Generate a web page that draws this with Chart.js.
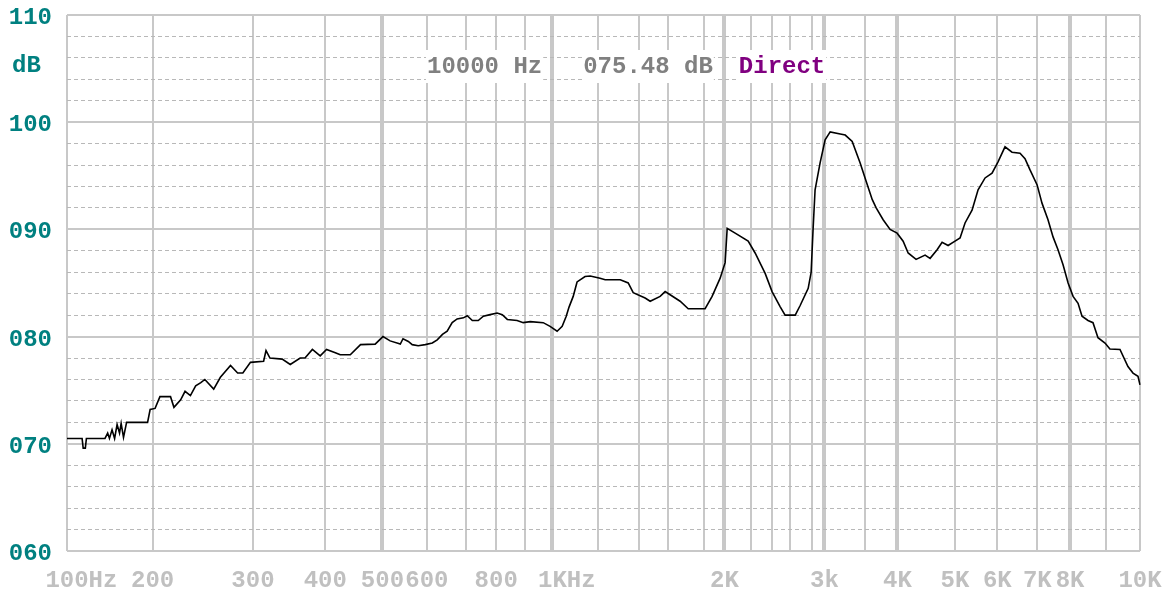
<!DOCTYPE html>
<html>
<head>
<meta charset="utf-8">
<title>Frequency response - Direct</title>
<script src="https://cdn.jsdelivr.net/npm/chart.js@4.4.1/dist/chart.umd.min.js"></script>
<style>
    html, body { margin: 0; padding: 0; background: #fff; }
    #wrap { width: 1162px; height: 593px; }
</style>
</head>
<body>
<div id="wrap"><canvas id="fr" width="1162" height="593"></canvas></div>
<script>
// --- 1. DATA ---
const FREQ_HZ = [
    100, 113, 114, 116, 117, 136, 139, 141, 144, 147, 150, 153, 155, 158, 162, 192, 196,
    202, 206, 215, 218, 224, 228, 233, 238, 243, 247, 256, 263, 274, 282, 288, 297,
    313, 316, 321, 337, 348, 362, 369, 380, 392, 402, 416, 424, 441, 459, 486,
    501, 516, 538, 544, 556, 565, 579, 596, 613, 625, 638, 650, 663, 676, 693,
    704, 720, 739, 756, 779, 803, 820, 837, 871, 893, 918, 965, 991,
    1019, 1040, 1057, 1069, 1087, 1104, 1140, 1164, 1210, 1233, 1304, 1343, 1368,
    1437, 1471, 1540, 1576, 1609, 1663, 1708, 1809, 1876, 1956,
    2005, 2020, 2079, 2179, 2239, 2333, 2400, 2487, 2543, 2646, 2691, 2766, 2794,
    2820, 2851, 2930, 3008, 3066, 3185, 3246, 3333, 3435, 3515, 3604, 3664, 3771, 3881,
    3995, 4090, 4170, 4300, 4453, 4540, 4665, 4756, 4868,
    5000, 5110, 5221, 5381, 5523, 5692, 5866, 6017, 6181, 6350, 6549, 6676, 6806,
    6995, 7135, 7312, 7464, 7617, 7775, 7937, 8080, 8213, 8320, 8485, 8625, 8767, 8971,
    9110, 9399, 9634, 9786, 9938, 10000
];
const LEVEL_DB = [
    70.5, 70.5, 69.6, 69.6, 70.5, 70.5, 71.0, 70.5, 71.3, 70.5, 71.8, 71.0, 71.9, 70.6, 72.0, 72.0, 73.2,
    73.3, 74.4, 74.4, 73.4, 74.1, 74.9, 74.5, 75.4, 75.7, 76.0, 75.1, 76.2, 77.3, 76.6, 76.6, 77.6,
    77.7, 78.7, 78.0, 77.9, 77.4, 78.0, 78.0, 78.8, 78.2, 78.8, 78.5, 78.3, 78.3, 79.25, 79.3,
    80.0, 79.6, 79.3, 79.8, 79.55, 79.25, 79.15, 79.25, 79.4, 79.7, 80.2, 80.5, 81.3, 81.65, 81.75,
    81.95, 81.5, 81.5, 81.9, 82.05, 82.2, 82.05, 81.6, 81.5, 81.3, 81.4, 81.3, 80.95,
    80.5, 80.95, 81.9, 82.75, 83.75, 85.1, 85.6, 85.65, 85.45, 85.3, 85.3, 85.0, 84.1,
    83.6, 83.3, 83.75, 84.2, 83.9, 83.3, 82.6, 82.6, 83.75, 85.45,
    86.9, 90.1, 89.65, 88.9, 87.8, 85.9, 84.2, 82.8, 82.0, 82.0, 82.9, 84.5, 86.0,
    90.0, 93.7, 96.2, 98.35, 99.1, 98.9, 98.8, 98.2, 96.2, 94.5, 92.8, 92.0, 90.9, 90.0,
    89.65, 88.9, 87.8, 87.2, 87.6, 87.3, 88.1, 88.8, 88.5,
    88.9, 89.2, 90.6, 91.8, 93.7, 94.8, 95.25, 96.3, 97.7, 97.2, 97.1, 96.6, 95.55,
    94.15, 92.45, 90.9, 89.3, 88.1, 86.7, 85.0, 83.75, 83.1, 81.9, 81.5, 81.3, 79.9, 79.4,
    78.85, 78.8, 77.2, 76.6, 76.3, 75.5
];

// grid + labels
const GRID_FREQS = [100, 200, 300, 400, 500, 600, 700, 800, 900, 1000, 1200, 1400, 1600, 1800,
    2000, 2200, 2400, 2600, 2800, 3000, 3500, 4000, 5000, 6000, 7000, 8000, 9000, 10000];
const MAJOR_FREQS = [500, 1000, 2000, 3000, 4000, 8000];
const X_TICK_FREQS = [100, 200, 300, 400, 500, 600, 800, 1000, 2000, 3000, 4000, 5000, 6000, 7000, 8000, 10000];
const X_TICK_LABELS = ['100Hz', '200', '300', '400', '500', '600', '800', '1KHz', '2K', '3k', '4K', '5K', '6K', '7K', '8K', '10K'];
const DB_MIN = 60;
const DB_MAX = 110;
const DB_STEP = 2;
const DB_UNIT = 'dB';

// cursor readout at the top
const READOUT = ['10000 Hz', '075.48 dB', 'Direct'];

// --- 2. Analyzer frequency axis ---
// Not a clean log axis: the first octave is squeezed and the top end a bit stretched,
// so the axis is defined by stops (Hz -> fraction of width), log in between.
const AXIS_STOP_HZ = [100, 200, 300, 400, 500, 600, 700, 800, 900, 1000, 1200, 1400, 1600, 1800,
    2000, 2200, 2400, 2600, 2800, 3000, 3500, 4000, 5000, 6000, 7000, 8000, 9000, 10000];
const AXIS_STOP_POS = [0, 0.0798, 0.1733, 0.2407, 0.2940, 0.3354, 0.3718, 0.4000, 0.4270, 0.4524,
    0.4947, 0.5335, 0.5605, 0.5938, 0.6127, 0.6373, 0.6571, 0.6739, 0.6941, 0.7059,
    0.7438, 0.7739, 0.8276, 0.8670, 0.9043, 0.9348, 0.9683, 1.0];

class AudioFreqScale extends Chart.Scale {
    determineDataLimits() {
        this.min = AXIS_STOP_HZ[0];
        this.max = AXIS_STOP_HZ[AXIS_STOP_HZ.length - 1];
    }
    buildTicks() {
        return GRID_FREQS.map(value => ({ value }));
    }
    getLabelForValue(value) {
        return value + ' Hz';
    }
    getPixelForValue(value) {
        const n = AXIS_STOP_HZ.length;
        const f = Math.min(Math.max(value, AXIS_STOP_HZ[0]), AXIS_STOP_HZ[n - 1]);
        let i = 1;
        while (i < n - 1 && f > AXIS_STOP_HZ[i]) i++;
        const t = Math.log(f / AXIS_STOP_HZ[i - 1]) / Math.log(AXIS_STOP_HZ[i] / AXIS_STOP_HZ[i - 1]);
        return this.getPixelForDecimal(AXIS_STOP_POS[i - 1] + t * (AXIS_STOP_POS[i] - AXIS_STOP_POS[i - 1]));
    }
    getValueForPixel(pixel) {
        const d = this.getDecimalForPixel(pixel);
        let i = 1;
        while (i < AXIS_STOP_POS.length - 1 && d > AXIS_STOP_POS[i]) i++;
        const t = (d - AXIS_STOP_POS[i - 1]) / (AXIS_STOP_POS[i] - AXIS_STOP_POS[i - 1]);
        return AXIS_STOP_HZ[i - 1] * Math.pow(AXIS_STOP_HZ[i] / AXIS_STOP_HZ[i - 1], t);
    }
}
AudioFreqScale.id = 'audiofreq';
AudioFreqScale.defaults = {};
Chart.register(AudioFreqScale);

const MONO = '"Liberation Mono", "DejaVu Sans Mono", monospace';

// --- 3. Texts the analyzer prints itself (x labels, dB unit, readout) ---
const analyzerText = {
    id: 'analyzerText',
    beforeDatasetsDraw(chart) {
        const { ctx, chartArea, scales: { x, y } } = chart;
        ctx.save();
        ctx.font = 'bold 24px ' + MONO;
        ctx.textBaseline = 'alphabetic';

        // readout line, white boxes knock out the grid behind it
        const colors = ['#808080', '#808080', '#800080'];
        const gaps = [41, 26];
        let tx = 427;
        READOUT.forEach((txt, i) => {
            const w = ctx.measureText(txt).width;
            ctx.fillStyle = '#fff';
            ctx.fillRect(tx - 1, 50, w + 2, 33);
            ctx.fillStyle = colors[i];
            ctx.fillText(txt, tx, 73);
            tx += w + (gaps[i] || 0);
        });

        // dB unit under the top label
        ctx.fillStyle = '#008080';
        ctx.textAlign = 'left';
        ctx.textBaseline = 'middle';
        ctx.fillText(DB_UNIT, 12, y.getPixelForValue(105.5) + 3);

        // frequency labels, number part centred on its grid line
        ctx.fillStyle = '#c0c0c0';
        ctx.textBaseline = 'alphabetic';
        X_TICK_FREQS.forEach((f, i) => {
            const label = X_TICK_LABELS[i];
            const numW = ctx.measureText(label.replace(/Hz$/, '')).width;
            ctx.fillText(label, x.getPixelForValue(f) - numW / 2, chartArea.bottom + 36);
        });
        ctx.restore();
    }
};

// --- 4. Chart ---
document.addEventListener('DOMContentLoaded', () => {
    const ctx = document.getElementById('fr').getContext('2d');

    new Chart(ctx, {
        type: 'line',
        data: {
            datasets: [{
                label: 'Direct',
                data: FREQ_HZ.map((f, i) => ({ x: f, y: LEVEL_DB[i] })),
                borderColor: '#000',
                borderWidth: 1.6,
                pointRadius: 0,
                tension: 0,
                fill: false
            }]
        },
        options: {
            responsive: false,
            animation: false,
            devicePixelRatio: 1,
            layout: { padding: { top: 15, right: 22, left: 0, bottom: 0 } },
            plugins: { legend: { display: false }, tooltip: { enabled: false } },
            scales: {
                x: {
                    type: 'audiofreq',
                    position: 'bottom',
                    ticks: { display: false },
                    grid: {
                        drawTicks: false,
                        color: '#c8c8c8',
                        lineWidth: c => (c.tick && MAJOR_FREQS.includes(c.tick.value)) ? 4 : 2
                    },
                    border: { display: false },
                    afterFit: s => { s.height = 42; s.paddingLeft = 0; s.paddingRight = 0; }
                },
                y: {
                    type: 'linear',
                    min: DB_MIN,
                    max: DB_MAX,
                    ticks: {
                        stepSize: DB_STEP,
                        autoSkip: false,
                        padding: 15,
                        labelOffset: 3,
                        color: '#008080',
                        font: { family: MONO, size: 24, weight: 'bold' },
                        callback: v => v % 10 === 0 ? String(v).padStart(3, '0') : ''
                    },
                    grid: {
                        drawTicks: false,
                        color: c => (c.tick && c.tick.value % 10 === 0) ? '#c8c8c8' : '#b8b8b8',
                        lineWidth: c => (c.tick && c.tick.value % 10 === 0) ? 2 : 1
                    },
                    border: {
                        display: false,
                        dash: c => (c.tick && c.tick.value % 10 !== 0) ? [4, 3] : []
                    },
                    // fixed gutter, and no extra top/bottom room for the labels
                    afterFit: s => { s.width = 67; s.paddingTop = 0; s.paddingBottom = 0; }
                }
            }
        },
        plugins: [analyzerText]
    });
});
</script>
</body>
</html>
